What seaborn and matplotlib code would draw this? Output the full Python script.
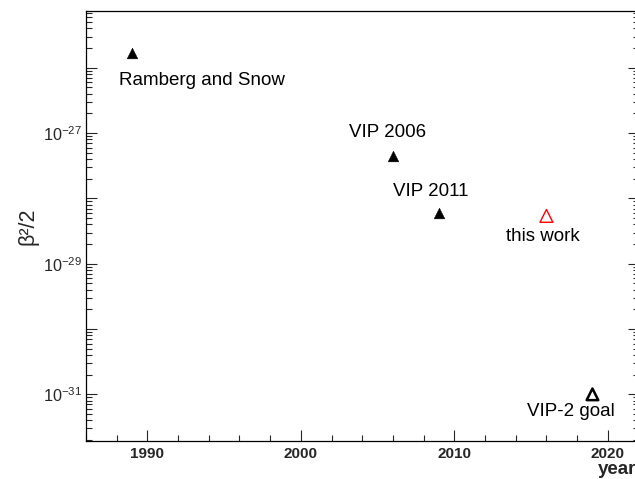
import numpy as np
import pandas as pd
import matplotlib
matplotlib.use("Agg")
import matplotlib.pyplot as plt
from matplotlib.ticker import MultipleLocator, LogLocator, FixedLocator, FuncFormatter, NullFormatter
import seaborn as sns

# ---- data ----
labels = ["Ramberg and Snow", "VIP 2006", "VIP 2011", "this work", "VIP-2 goal"]
years = [1989, 2006, 2009, 2016, 2019]
limits = [1.7e-26, 4.5e-28, 6.0e-29, 5.4e-29, 1.0e-31]
kind = ["past", "past", "past", "this", "goal"]

x_label = "year"
y_label = "β²/2"
xlim = (1986, 2022)
ylim = (1.93e-32, 7.4e-26)
y_decades = [-31, -30, -29, -28, -27, -26]

df = pd.DataFrame({"label": labels, "year": years, "limit": limits, "kind": kind})

sns.set_style("ticks")
plt.rcParams["font.family"] = ["Liberation Sans", "DejaVu Sans"]
plt.rcParams["mathtext.fontset"] = "custom"
plt.rcParams["mathtext.rm"] = "Liberation Sans"
plt.rcParams["mathtext.it"] = "Liberation Sans:italic"
plt.rcParams["mathtext.bf"] = "Liberation Sans:bold"
plt.rcParams["mathtext.default"] = "regular"

fig = plt.figure(figsize=(6.35, 4.79), dpi=100)
ax = fig.add_axes([86 / 635, 1 - 441 / 479, (638.5 - 86) / 635, (441 - 11) / 479])

past = df[df.kind == "past"]
sns.scatterplot(data=past, x="year", y="limit", marker="^", s=60, color="black",
                edgecolor="black", linewidth=0.3, ax=ax, zorder=3)
this = df[df.kind == "this"]
sns.scatterplot(data=this, x="year", y="limit", marker="^", s=85, facecolor="none",
                edgecolor="#ff0000", linewidth=1.0, ax=ax, zorder=3)
goal = df[df.kind == "goal"]
sns.scatterplot(data=goal, x="year", y="limit", marker="^", s=70, facecolor="none",
                edgecolor="black", linewidth=1.8, ax=ax, zorder=3)

ax.set_yscale("log")
ax.set_xlim(*xlim)
ax.set_ylim(*ylim)

# label offsets in pixels (dx, dy) relative to the marker
offsets = {"Ramberg and Snow": (70, -32), "VIP 2006": (-5, 19), "VIP 2011": (-8, 17),
           "this work": (-4, -25), "VIP-2 goal": (-22, -22)}
for lab, xv, yv in zip(labels, years, limits):
    dx, dy = offsets[lab]
    ax.annotate(lab, (xv, yv), xytext=(dx, dy), textcoords="offset pixels",
                ha="center", va="baseline", fontsize=13.5, color="black")

ax.xaxis.set_major_locator(MultipleLocator(10))
ax.xaxis.set_minor_locator(MultipleLocator(2))
ax.yaxis.set_major_locator(FixedLocator([10.0 ** e for e in y_decades]))
ax.yaxis.set_minor_locator(LogLocator(base=10, subs=np.arange(2, 10), numticks=20))
ax.yaxis.set_minor_formatter(NullFormatter())

def yfmt(v, pos):
    e = int(round(np.log10(v)))
    return r"$10^{%d}$" % e if e % 2 != 0 else ""
ax.yaxis.set_major_formatter(FuncFormatter(yfmt))

ax.tick_params(axis="x", which="both", direction="in", top=False, bottom=True,
               width=0.8, labelsize=11, pad=4.5)
ax.tick_params(axis="x", which="major", length=8)
ax.tick_params(axis="x", which="minor", length=4)
ax.tick_params(axis="y", which="both", direction="in", left=True, right=True,
               width=0.8, labelsize=11.7, pad=3)
ax.tick_params(axis="y", which="major", length=8)
ax.tick_params(axis="y", which="minor", length=4.3)
for t in ax.get_xticklabels():
    t.set_fontweight("bold")

for sp in ax.spines.values():
    sp.set_linewidth(0.9)
    sp.set_color("black")

ax.set_xlabel("")
ax.set_ylabel("")
fig.text(598 / 635, 1 - 474 / 479, x_label, ha="left", va="baseline", fontsize=13.5,
         fontweight="bold")
fig.text(28 / 635, 1 - 226 / 479, y_label, ha="center", va="center", rotation=90,
         fontsize=15.5)

fig.savefig("out.png", dpi=100)
